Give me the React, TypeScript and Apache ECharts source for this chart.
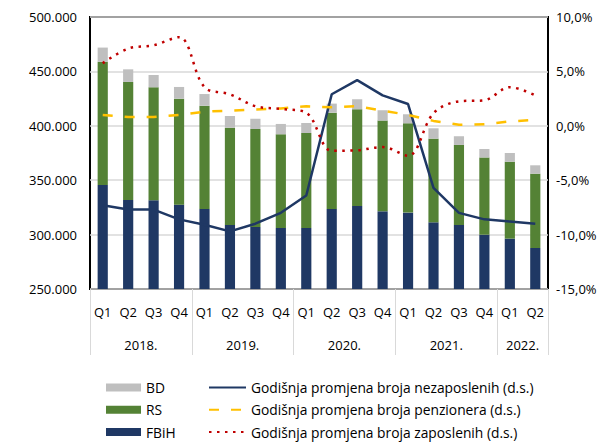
import React, { useEffect, useRef } from "react";
import * as echarts from "echarts";

const quarters = ["Q1","Q2","Q3","Q4","Q1","Q2","Q3","Q4","Q1","Q2","Q3","Q4","Q1","Q2","Q3","Q4","Q1","Q2"];
const years = ["2018.", "2019.", "2020.", "2021.", "2022."];
const yearCenters = [2, 6, 10, 14, 17];
const yearBounds = [0, 4, 8, 12, 16, 18];

// thousands of persons
const fbih = [345.6, 331.8, 331.5, 327.5, 323.6, 308.8, 307.0, 306.1, 306.1, 323.6, 326.3, 321.4, 320.2, 311.3, 308.8, 299.9, 296.3, 287.7];
const rs = [113.3, 108.5, 103.9, 97.4, 94.9, 89.5, 90.1, 86.1, 87.3, 88.5, 88.9, 83.4, 82.1, 76.9, 73.6, 71.0, 70.7, 68.3];
const bd = [13.0, 11.6, 11.3, 10.8, 10.7, 10.7, 9.4, 9.5, 9.2, 8.3, 9.2, 9.5, 8.3, 9.5, 8.0, 7.8, 8.0, 7.7];

// annual change, %
const unemployedChange = [-7.3, -7.7, -7.7, -8.6, -9.1, -9.7, -9.0, -8.0, -6.4, 2.9, 4.2, 2.8, 2.0, -5.7, -8.0, -8.6, -8.8, -9.0];
const pensionersChange = [1.0, 0.8, 0.8, 1.0, 1.3, 1.4, 1.5, 1.6, 1.8, 1.7, 1.8, 1.4, 1.0, 0.45, 0.1, 0.15, 0.4, 0.55];
const employedChange = [5.75, 7.1, 7.4, 8.15, 3.55, 2.9, 1.8, 1.55, 1.2, -2.3, -2.25, -1.95, -2.75, 1.15, 2.25, 2.35, 3.55, 2.8];

const names = {
  bd: "BD",
  rs: "RS",
  fbih: "FBiH",
  un: "Godišnja promjena broja nezaposlenih (d.s.)",
  pen: "Godišnja promjena broja penzionera (d.s.)",
  emp: "Godišnja promjena broja zaposlenih (d.s.)",
};

const FONT = "Open Sans";
const legendText = { fontSize: 13.8, lineHeight: 15, color: "#000", fontFamily: FONT };

export default function App() {
  const ref = useRef<HTMLDivElement>(null);
  useEffect(() => {
    if (!ref.current) return;
    const chart = echarts.init(ref.current, null, { renderer: "svg" });
    chart.setOption({
      animation: false,
      textStyle: { fontFamily: FONT, color: "#000" },
      grid: { left: 90, right: 60, top: 17, bottom: 153, show: true, borderColor: "#000", borderWidth: 2, backgroundColor: "transparent" },
      legend: [
        {
          data: [names.bd, names.rs, names.fbih],
          orient: "vertical", left: 106, top: 380, padding: 0, icon: "rect",
          itemWidth: 35, itemHeight: 8, itemGap: 7.3, height: 62,
          textStyle: legendText,
        },
        {
          data: [names.un, names.pen, names.emp],
          orient: "vertical", left: 208, top: 380, padding: 0,
          itemWidth: 37, itemHeight: 8, itemGap: 7.3, height: 62,
          itemStyle: { opacity: 0 },
          textStyle: legendText,
        },
      ],
      xAxis: [
        {
          type: "category", data: quarters, position: "bottom",
          axisLine: { show: false }, axisTick: { show: false },
          axisLabel: { fontSize: 13, color: "#000", margin: 16, interval: 0 },
        },
        {
          type: "value", min: 0, max: 18, position: "bottom", gridIndex: 0,
          axisLine: { show: false }, splitLine: { show: false },
          axisTick: { show: true, customValues: yearBounds, length: 66, lineStyle: { color: "#d9d9d9", width: 1 } },
          axisLabel: {
            customValues: yearCenters, fontSize: 13, color: "#000", margin: 49,
            formatter: (v: number) => years[yearCenters.indexOf(v)] ?? "",
          },
        },
      ],
      yAxis: [
        {
          type: "value", min: 250, max: 500, interval: 50, position: "left",
          axisLine: { show: false }, axisTick: { show: false },
          splitLine: { lineStyle: { color: "#d9d9d9", width: 1.5 } },
          axisLabel: { fontSize: 13, color: "#000", margin: 13, formatter: (v: number) => v + ".000" },
        },
        {
          type: "value", min: -15, max: 10, interval: 5, position: "right",
          axisLine: { show: false }, axisTick: { show: false }, splitLine: { show: false },
          axisLabel: { fontSize: 13, color: "#000", margin: 8, formatter: (v: number) => v.toFixed(1).replace(".", ",") + "%" },
        },
      ],
      series: [
        { name: names.fbih, type: "bar", stack: "t", data: fbih, barWidth: "40%", itemStyle: { color: "#1F3864" } },
        { name: names.rs, type: "bar", stack: "t", data: rs, itemStyle: { color: "#548235" } },
        { name: names.bd, type: "bar", stack: "t", data: bd, itemStyle: { color: "#BFBFBF" } },
        { name: names.un, type: "line", yAxisIndex: 1, data: unemployedChange, symbol: "none", lineStyle: { color: "#1F3864", width: 2.5 }, itemStyle: { color: "#1F3864" } },
        { name: names.pen, type: "line", yAxisIndex: 1, data: pensionersChange, symbol: "none", lineStyle: { color: "#FFC000", width: 2.5, type: [10, 12] }, itemStyle: { color: "#FFC000" } },
        { name: names.emp, type: "line", yAxisIndex: 1, data: employedChange, symbol: "none", smooth: 0.35, lineStyle: { color: "#C00000", width: 2.5, type: [2.5, 5.5] }, itemStyle: { color: "#C00000" } },
      ],
    });
    return () => chart.dispose();
  }, []);
  return <div ref={ref} style={{ width: 608, height: 442, position: "absolute", left: 0, top: 0 }} />;
}
